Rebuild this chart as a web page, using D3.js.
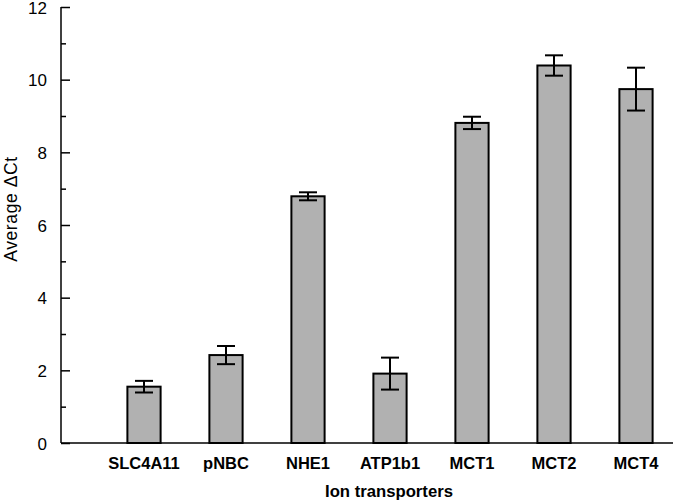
<!DOCTYPE html>
<html><head><meta charset="utf-8">
<script src="https://cdn.jsdelivr.net/npm/d3@7"></script>
<style>body{margin:0;background:#fff}svg{display:block}text{font-family:"Liberation Sans",Arial,sans-serif}</style>
</head><body>
<svg id="c" width="674" height="501"></svg>
<script>
const categories = ["SLC4A11","pNBC","NHE1","ATP1b1","MCT1","MCT2","MCT4"];
const means = [1.55, 2.42, 6.79, 1.91, 8.81, 10.39, 9.74];
const errors = [0.16, 0.25, 0.11, 0.44, 0.17, 0.28, 0.59];
const yTicks = [0, 2, 4, 6, 8, 10, 12];
const yMinorTicks = [1, 3, 5, 7, 9, 11];

const svg = d3.select("#c");
const x0 = 61, x1 = 673, yTop = 7, yBot = 443;
const y = d3.scaleLinear().domain([0, 12]).range([yBot, yTop]);
const x = d3.scaleBand().domain(categories).range([103, 677]).paddingInner(0.595).paddingOuter(0.2975);

const data = categories.map((c, i) => ({c, m: means[i], e: errors[i]}));

// bars
svg.append("g").selectAll("rect").data(data).join("rect")
  .attr("x", d => x(d.c)).attr("width", x.bandwidth())
  .attr("y", d => y(d.m)).attr("height", d => y(0) - y(d.m))
  .attr("fill", "#b1b1b1").attr("stroke", "#000").attr("stroke-width", 2);

// error bars
const eg = svg.append("g").attr("stroke", "#000").attr("stroke-width", 2);
const cap = 9;
data.forEach(d => {
  const cx = x(d.c) + x.bandwidth() / 2;
  eg.append("line").attr("x1", cx).attr("x2", cx).attr("y1", y(d.m + d.e)).attr("y2", y(d.m - d.e));
  eg.append("line").attr("x1", cx - cap).attr("x2", cx + cap).attr("y1", y(d.m + d.e)).attr("y2", y(d.m + d.e));
  eg.append("line").attr("x1", cx - cap).attr("x2", cx + cap).attr("y1", y(d.m - d.e)).attr("y2", y(d.m - d.e));
});

// y axis
const yAxis = svg.append("g").attr("transform", `translate(${x0},0)`)
  .call(d3.axisRight(y).tickValues(yTicks).tickSize(9).tickFormat(d3.format("d")));
yAxis.select(".domain").remove();
yAxis.selectAll(".tick line").attr("stroke", "#000").attr("stroke-width", 1.5);
yAxis.selectAll(".tick text").attr("x", -14).attr("text-anchor", "end").attr("dy", "0.36em")
  .attr("font-size", 17).attr("fill", "#000").attr("font-family", "Liberation Sans, Arial, sans-serif");
const yMinor = svg.append("g").attr("transform", `translate(${x0},0)`)
  .call(d3.axisRight(y).tickValues(yMinorTicks).tickSize(5).tickFormat(""));
yMinor.select(".domain").remove();
yMinor.selectAll(".tick line").attr("stroke", "#000").attr("stroke-width", 1.5);

svg.append("line").attr("x1", x0).attr("x2", x0).attr("y1", yTop).attr("y2", yBot)
  .attr("stroke", "#000").attr("stroke-width", 1.5);

// x axis
const xAxis = svg.append("g").attr("transform", `translate(0,${yBot})`)
  .call(d3.axisBottom(x).tickSize(0).tickPadding(0));
xAxis.select(".domain").remove();
xAxis.selectAll(".tick text").attr("y", 26).attr("dy", 0).attr("font-size", 16.5).attr("font-weight", "bold")
  .attr("fill", "#000").attr("font-family", "Liberation Sans, Arial, sans-serif");
svg.append("line").attr("x1", x0).attr("x2", x1).attr("y1", yBot).attr("y2", yBot)
  .attr("stroke", "#000").attr("stroke-width", 1.5);

// titles
svg.append("text").attr("x", 389).attr("y", 497).attr("text-anchor", "middle")
  .attr("font-size", 16.7).attr("font-weight", "bold")
  .text("Ion transporters");
svg.append("text").attr("transform", "translate(17,209) rotate(-90)").attr("text-anchor", "middle")
  .attr("font-size", 17.5).style("letter-spacing", "0.6px")
  .text("Average \u0394Ct");
</script>
</body></html>
